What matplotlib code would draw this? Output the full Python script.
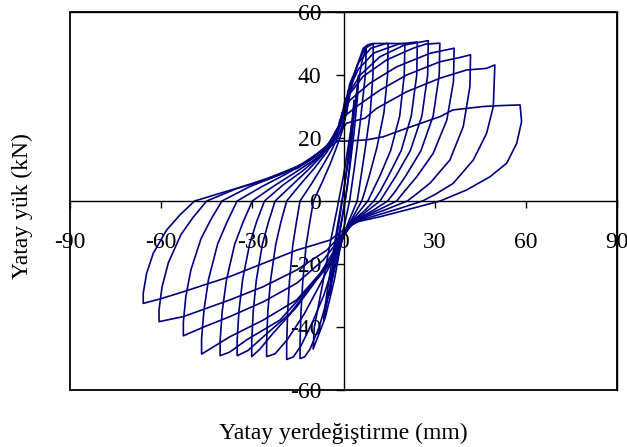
import matplotlib
matplotlib.use("Agg")
import matplotlib.pyplot as plt
from matplotlib.patches import Rectangle

plt.rcParams['font.family'] = ['Liberation Serif', 'DejaVu Serif']
plt.rcParams['axes.unicode_minus'] = False

# cycles as (displacement mm, load kN) vertices
cycle12 = [(-2, 19), (0, 19), (7.6, 19.4), (13.1, 20.4), (20.8, 23.1), (31.8, 26.8), (36, 28.9), (46, 30), (52, 30.3), (58.1, 30.5),
           (58.6, 25.2), (57, 18.3), (53.7, 12), (48.2, 7.7), (40.5, 3.5), (31.8, 0),
           (22, -2.5), (12, -5), (5, -6.5), (1, -8.5),
           (-4.4, -12.4), (-15.4, -15.6), (-26.4, -19.8), (-37.4, -24), (-52.7, -28.8), (-60, -31), (-65.9, -32.5),
           (-65.9, -29.3), (-64.8, -23), (-62.6, -16.6), (-58.2, -9.2), (-53.8, -4.4), (-49, 0),
           (-37, 3.5), (-26, 6.5), (-15, 10.5), (-6, 16), (-2, 19)]
cycle11 = [(-2.5, 20), (1, 24.7), (7.1, 26.3), (10.9, 29.4), (20.8, 34.7), (31.8, 39), (40.5, 41.6), (47.1, 42.1), (49.8, 43.2),
           (49.3, 30), (47.1, 21.5), (42.7, 13), (36.1, 5.6), (30, 2), (26, 0),
           (18, -2.5), (10, -4.8), (4, -6.5), (0.5, -9.5),
           (-5.5, -15.6), (-15.4, -21.9), (-26.4, -27.2), (-37.4, -31.4), (-52.7, -36.7), (-60.7, -38.3),
           (-60.7, -34.5), (-59.7, -27.2), (-57.6, -19.5), (-53.5, -10.7), (-49.5, -5.2), (-45, 0),
           (-35, 4), (-25, 7.2), (-15, 11), (-6, 16.5), (-2.5, 20)]
cycle10 = [(-2, 22), (-1.2, 25.7), (4.3, 30), (12, 35.2), (20.8, 40), (31.7, 44.2), (38, 45.5), (41.8, 46.4),
           (41.6, 36.3), (39.4, 23.6), (35, 13), (28.5, 5.7), (24, 2.2), (21, 0),
           (14, -2.7), (8, -4.8), (3.5, -6.8), (0, -10.5),
           (-6.6, -18.7), (-15.4, -26.1), (-26.4, -32), (-37.4, -36.7), (-46, -40), (-52.7, -42.8),
           (-52.7, -38.5), (-51.9, -30.4), (-50.2, -21.8), (-46.9, -12), (-43.6, -5.8), (-40, 0),
           (-31, 4.5), (-22, 8), (-13, 12), (-6, 17), (-2, 22)]
cycle9 = [(-1.5, 24), (-0.5, 28), (2.1, 32), (8.7, 37.4), (17.5, 42.6), (28.5, 46.9), (36.4, 48.5),
          (36.2, 38), (34, 25.7), (29.5, 15.1), (24.1, 7.7), (20, 3), (17.5, 0),
          (12, -2.6), (7, -4.8), (3, -7), (0, -11),
          (-7.7, -23), (-15.4, -31.4), (-26.4, -37.8), (-37.4, -43.1), (-46.7, -48.6),
          (-46.7, -43.7), (-45.9, -34.5), (-44.4, -24.8), (-41.4, -13.6), (-38.3, -6.6), (-35, 0),
          (-27, 4.5), (-19, 8.5), (-11, 13), (-5, 18), (-1.5, 24)]
cycle8 = [(-1, 25), (0.5, 32), (6.4, 39.5), (14.2, 44.8), (22.9, 48.5), (27, 49.8), (31.7, 50.1),
          (31.5, 40), (29.5, 27), (25.5, 16), (20.5, 8), (17, 3), (14.5, 0),
          (10, -2.8), (6, -5), (2.5, -7.5), (-0.5, -12),
          (-5, -20), (-11, -27.2), (-20.9, -37.8), (-31.9, -44.1), (-37.5, -48), (-40.6, -49.1),
          (-40.6, -44.2), (-39.9, -34.9), (-38.5, -25), (-35.8, -13.7), (-33, -6.6), (-30, 0),
          (-23, 4.7), (-16, 9), (-9, 13.5), (-4.5, 18), (-1, 25)]
cycle7 = [(-0.5, 26), (1, 33), (5.5, 40), (12, 45.8), (20, 49.5), (27.9, 50.9),
          (27.7, 40), (25.8, 27), (22, 16), (17.3, 8), (14, 3), (12, 0),
          (8, -3), (5, -5.2), (2, -8), (-1, -13),
          (-5, -20), (-9.9, -26.1), (-17.6, -35.7), (-26.4, -43.1), (-31.5, -47.5), (-35, -49.1),
          (-35, -44.2), (-34.4, -34.9), (-33.2, -25), (-30.9, -13.7), (-28.6, -6.6), (-26, 0),
          (-20, 5), (-13.5, 9.5), (-8, 14), (-4, 18.5), (-0.5, 26)]
cycle6 = [(0, 27), (1.5, 35), (5, 42), (10, 47), (18, 49.8), (24.3, 50.5),
          (24.1, 40), (22.3, 27), (19, 16), (14.8, 8), (12, 3), (10, 0),
          (7, -3), (4, -5.5), (1.5, -8.5), (-1, -13.5),
          (-4.5, -20), (-8.8, -25), (-15.4, -33.6), (-23.1, -41.9), (-27.5, -47), (-30.2, -49.4),
          (-30.2, -44.5), (-29.7, -35), (-28.7, -25.2), (-26.7, -13.8), (-24.7, -6.7), (-22.5, 0),
          (-17, 5), (-11.5, 10), (-7, 14.5), (-3.5, 19), (0, 27)]
cycle5 = [(0.5, 28), (2, 37), (5, 44), (9, 48.5), (14, 50), (20.2, 50),
          (20, 40), (18.5, 27), (15.5, 16), (12, 8), (9.5, 3), (8, 0),
          (5.5, -3), (3, -6), (1, -9), (-1.5, -14),
          (-4.5, -20.5), (-8, -27), (-13, -36), (-18.5, -44), (-22.5, -48.5), (-25.3, -49.4),
          (-25.3, -44.5), (-24.9, -35), (-24, -25.2), (-22.3, -13.8), (-20.6, -6.7), (-18.7, 0),
          (-14, 5.5), (-9.5, 10.5), (-5.5, 15.5), (-2.5, 20), (0.5, 28)]
cycle4 = [(1, 28), (2, 36), (4.5, 43), (7, 48.5), (10, 50), (14.7, 50),
          (14.5, 40), (13.3, 28), (11, 17), (8.5, 8), (7, 3), (6, 0),
          (4, -3.5), (2, -7), (0, -11),
          (-2.5, -18), (-4.5, -24), (-6.5, -30), (-10, -38), (-14, -46), (-16.5, -49.5), (-18.7, -50.3),
          (-18.7, -45.3), (-18.4, -35.7), (-17.8, -25.7), (-16.7, -14.1), (-15.5, -6.8), (-14.3, 0),
          (-10.5, 5.5), (-7, 11), (-4, 16), (-1.5, 21), (1, 28)]
cycle3 = [(1, 28), (2.5, 36), (4.5, 43), (6.5, 48.5), (8, 49.6), (9.8, 50),
          (9.7, 40), (8.8, 28), (7.2, 17), (5.8, 8), (5, 3), (4.5, 0),
          (3, -3.5), (1.5, -7), (0, -11),
          (-2, -18), (-3.5, -24), (-5, -30), (-8, -40), (-11, -47), (-12.8, -49.5), (-14.3, -50),
          (-14.3, -45), (-14, -35.5), (-13.4, -25.5), (-12.3, -14), (-11.1, -6.8), (-9.9, 0),
          (-7, 6), (-4.5, 11.5), (-2.3, 17), (-0.5, 22), (1, 28)]
cycle2 = [(0, -9), (-3, -25), (-6, -37), (-10, -47), (-9.6, -40), (-7, -27), (-4.5, -14), (-2, -2),
          (0, 8), (2, 20), (4, 32), (6, 44), (7.5, 49), (7.2, 40), (5.5, 25), (3.5, 10), (2, 0), (0, -9)]
cycle1 = [(-1, -8), (-3.5, -22), (-6.5, -38), (-6, -33), (-4, -20), (-2, -8), (0, 3), (2, 15),
          (3.5, 28), (5, 40), (4.6, 33), (3.5, 22), (2, 10), (0.5, 0), (-1, -8)]
cycle0 = [(-0.5, -6), (-2.5, -17), (-4.5, -30), (-4.2, -25), (-2.8, -15), (-1.2, -5), (0.5, 6),
          (2, 18), (3.5, 32), (3.2, 25), (2.3, 14), (1.2, 4), (-0.5, -6)]

cycles = [cycle0, cycle1, cycle2, cycle3, cycle4, cycle5, cycle6, cycle7, cycle8, cycle9, cycle10, cycle11, cycle12]

x_ticks = [-90, -60, -30, 0, 30, 60, 90]
y_ticks = [-60, -40, -20, 0, 20, 40, 60]

fig = plt.figure(figsize=(6.27, 4.47), dpi=100)
ax = fig.add_axes([70 / 627, 1 - 390 / 447, 547 / 627, 378 / 447])

for c in cycles:
    xs, ys = zip(*c)
    ax.plot(xs, ys, color='#000080', lw=1.2)

ax.set_xlim(-90, 90)
ax.set_ylim(-60, 60)

ax.spines['left'].set_position(('data', 0))
ax.spines['bottom'].set_position(('data', 0))
for s in ax.spines.values():
    s.set_linewidth(1.0)
ax.add_patch(Rectangle((0, 0), 1, 1, transform=ax.transAxes, fill=False,
                       lw=1.3, ec='black', clip_on=False, zorder=5))

ax.set_xticks(x_ticks)
ax.set_yticks(y_ticks)
ax.tick_params(axis='x', direction='out', length=5, width=1, pad=17, labelsize=17)
ax.tick_params(axis='y', direction='out', length=6, width=1, pad=10, labelsize=17)

fig.text(343 / 627, 1 - 433 / 447, 'Yatay yerdeğiştirme (mm)', ha='center', va='center', fontsize=17)
fig.text(22 / 627, 1 - 206 / 447, 'Yatay yük (kN)', ha='center', va='center', rotation=90, fontsize=17)

fig.savefig('out.png', dpi=100)
